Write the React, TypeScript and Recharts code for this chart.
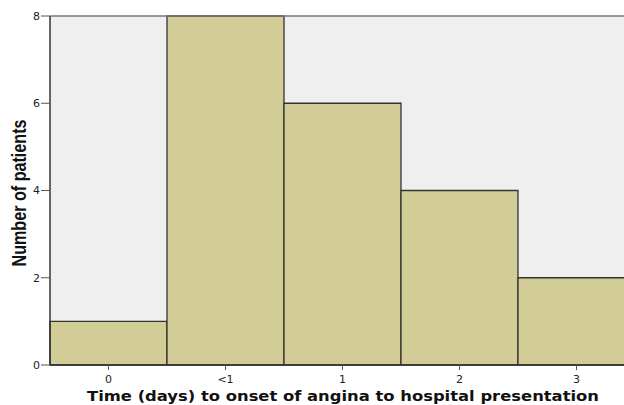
import React from 'react';
import { BarChart, Bar, XAxis, YAxis, CartesianGrid, ReferenceLine, Label } from 'recharts';

const categories = ['0', '<1', '1', '2', '3'];
const patients = [1, 8, 6, 4, 2];
const yTicks = [0, 2, 4, 6, 8];

const data = categories.map((name, i) => ({ name, count: patients[i] }));

const tickStyle = { fontFamily: 'DejaVu Sans, sans-serif', fontSize: 11, fill: '#222' };

const YTitle = () => (
  <text
    x={26}
    y={193}
    transform="rotate(-90 26 193)"
    textAnchor="middle"
    fontFamily="'Liberation Sans Narrow', 'Arial Narrow', 'Liberation Sans', sans-serif"
    fontWeight="bold"
    fontSize={20}
    fill="#111"
    textLength={147}
    lengthAdjust="spacingAndGlyphs"
  >
    Number of patients
  </text>
);

const XTitle = () => (
  <text
    x={343}
    y={401}
    textAnchor="middle"
    fontFamily="DejaVu Sans, sans-serif"
    fontWeight="bold"
    fontSize={14.5}
    fill="#111"
    textLength={512}
    lengthAdjust="spacingAndGlyphs"
  >
    Time (days) to onset of angina to hospital presentation
  </text>
);

const App: React.FC = () => {
  return (
    <div style={{ position: 'absolute', left: 0, top: 0, width: 624, height: 405, overflow: 'hidden', background: '#fff' }}>
      <BarChart
        width={640}
        height={405}
        data={data}
        barCategoryGap={0}
        margin={{ top: 16, right: 5, left: 0, bottom: 0 }}
      >
        <CartesianGrid fill="#efefef" horizontal={false} vertical={false} stroke="none" />
        <ReferenceLine y={8} stroke="#777" strokeWidth={1.5} />
        <XAxis
          dataKey="name"
          height={40}
          tickSize={5}
          tickMargin={5}
          tick={tickStyle}
          axisLine={{ stroke: '#333', strokeWidth: 1.5 }}
          tickLine={{ stroke: '#555' }}
        >
          <Label content={() => <XTitle />} />
        </XAxis>
        <YAxis
          width={50}
          domain={[0, 8]}
          ticks={yTicks}
          tickSize={9}
          tickMargin={1}
          tick={tickStyle}
          axisLine={{ stroke: '#333', strokeWidth: 1.5 }}
          tickLine={{ stroke: '#555' }}
        >
          <Label content={() => <YTitle />} />
        </YAxis>
        <Bar dataKey="count" fill="#d2cd96" stroke="#333" strokeWidth={1.3} isAnimationActive={false} />
      </BarChart>
    </div>
  );
};

export default App;
